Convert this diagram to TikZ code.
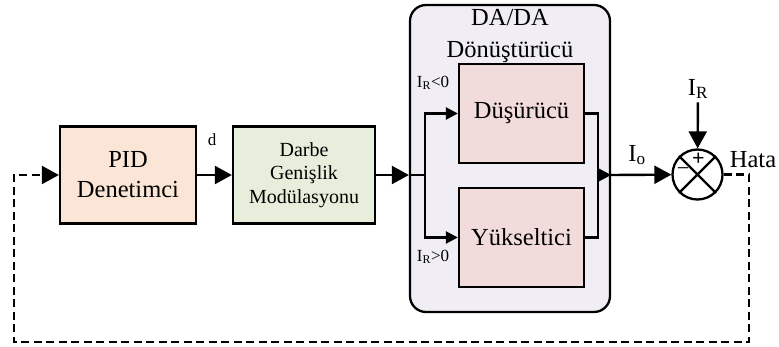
\documentclass[tikz,border=0pt]{standalone}
\usepackage{fontspec}
\setmainfont{Liberation Serif}
\usetikzlibrary{arrows.meta}

\definecolor{pidrenk}{HTML}{FBE5D6}
\definecolor{pwmrenk}{HTML}{E8EEDC}
\definecolor{kuturenk}{HTML}{F0EEF4}
\definecolor{donrenk}{HTML}{F2DCDB}

\begin{document}
\begin{tikzpicture}[x=1pt,y=-1pt,
    blok/.style={draw,line width=2.3pt,align=center,inner sep=2pt},
    buyuk/.style={font=\fontsize{24.5}{30}\selectfont},
    kucuk/.style={font=\fontsize{17}{20}\selectfont},
    ok/.style={-{Triangle[length=17pt,width=18pt]},line width=2.4pt},
    kucukok/.style={-{Triangle[length=12pt,width=12pt]},line width=2.4pt},
    tel/.style={line width=2.4pt},
    geri/.style={line width=2.3pt,dash pattern=on 8pt off 4.5pt}]
    \useasboundingbox (0,0) rectangle (779,347);
    % Coordinates
    \coordinate (split) at (425,175);
    \coordinate (join) at (598,175);
    \coordinate (c1) at (749,342);
    \coordinate (c2) at (14,342);
    % Blocks
    \node[blok,buyuk,fill=pidrenk,minimum width=136pt,minimum height=97pt] (pid) at (128,175) {PID\\Denetimci};
    \node[blok,fill=pwmrenk,minimum width=142pt,minimum height=97pt,font=\fontsize{20}{23.5}\selectfont] (pwm) at (304,175) {Darbe\\Genişlik\\Modülasyonu};
    \node[draw,line width=2.3pt,fill=kuturenk,rounded corners=16pt,minimum width=200pt,minimum height=307pt] (dc) at (510,158.5) {};
    \node[align=center,font=\fontsize{24.5}{32}\selectfont] (baslik) at (510,36) {DA/DA\\Dönüştürücü};
    \node[blok,buyuk,fill=donrenk,minimum width=125pt,minimum height=99pt] (buck) at (521.5,113.5) {Düşürücü};
    \node[blok,buyuk,fill=donrenk,minimum width=125pt,minimum height=99pt] (boost) at (521.5,237.5) {Yükseltici};
    \node[draw,circle,line width=2.3pt,fill=white,minimum size=50pt,inner sep=0pt] (sum) at (697.5,174.5) {};
    \draw[line width=2.3pt] (sum.north west) -- (sum.south east) (sum.north east) -- (sum.south west);
    % Labels
    \node[font=\fontsize{22}{22}\selectfont\bfseries] (arti) at (698.5,159) {+};
    \node[font=\fontsize{22}{22}\selectfont] (eksi) at (683,172) {−};
    \node[kucuk] (d) at (212,140) {d};
    \node[kucuk] (ir1) at (433,83) {I\textsubscript{R}<0};
    \node[kucuk] (ir2) at (433,257) {I\textsubscript{R}>0};
    \node[buyuk] (io) at (637,155) {I\textsubscript{o}};
    \node[buyuk] (ir) at (698,89) {I\textsubscript{R}};
    \node[buyuk] (hata) at (753,160) {Hata};
    % Connectors
    \draw[ok] (pid) -- (pwm);
    \draw[ok] (pwm) -- (pwm.east -| dc.west);
    \draw[tel] (pwm.east -| dc.west) -- (split);
    \draw[kucukok] (split) |- (buck.west);
    \draw[kucukok] (split) |- (boost.west);
    \draw[tel] (buck.east) -| (join) |- (boost.east);
    \draw[kucukok] (join) -- (join -| dc.east);
    \draw[ok] (join -| dc.east) -- (sum);
    \draw[ok] (ir) -- (sum);
    % feedback
    \draw[geri,-{Triangle[length=17pt,width=18pt]}] (sum) -| (c1) -- (c2) |- (pid);
\end{tikzpicture}
\end{document}
